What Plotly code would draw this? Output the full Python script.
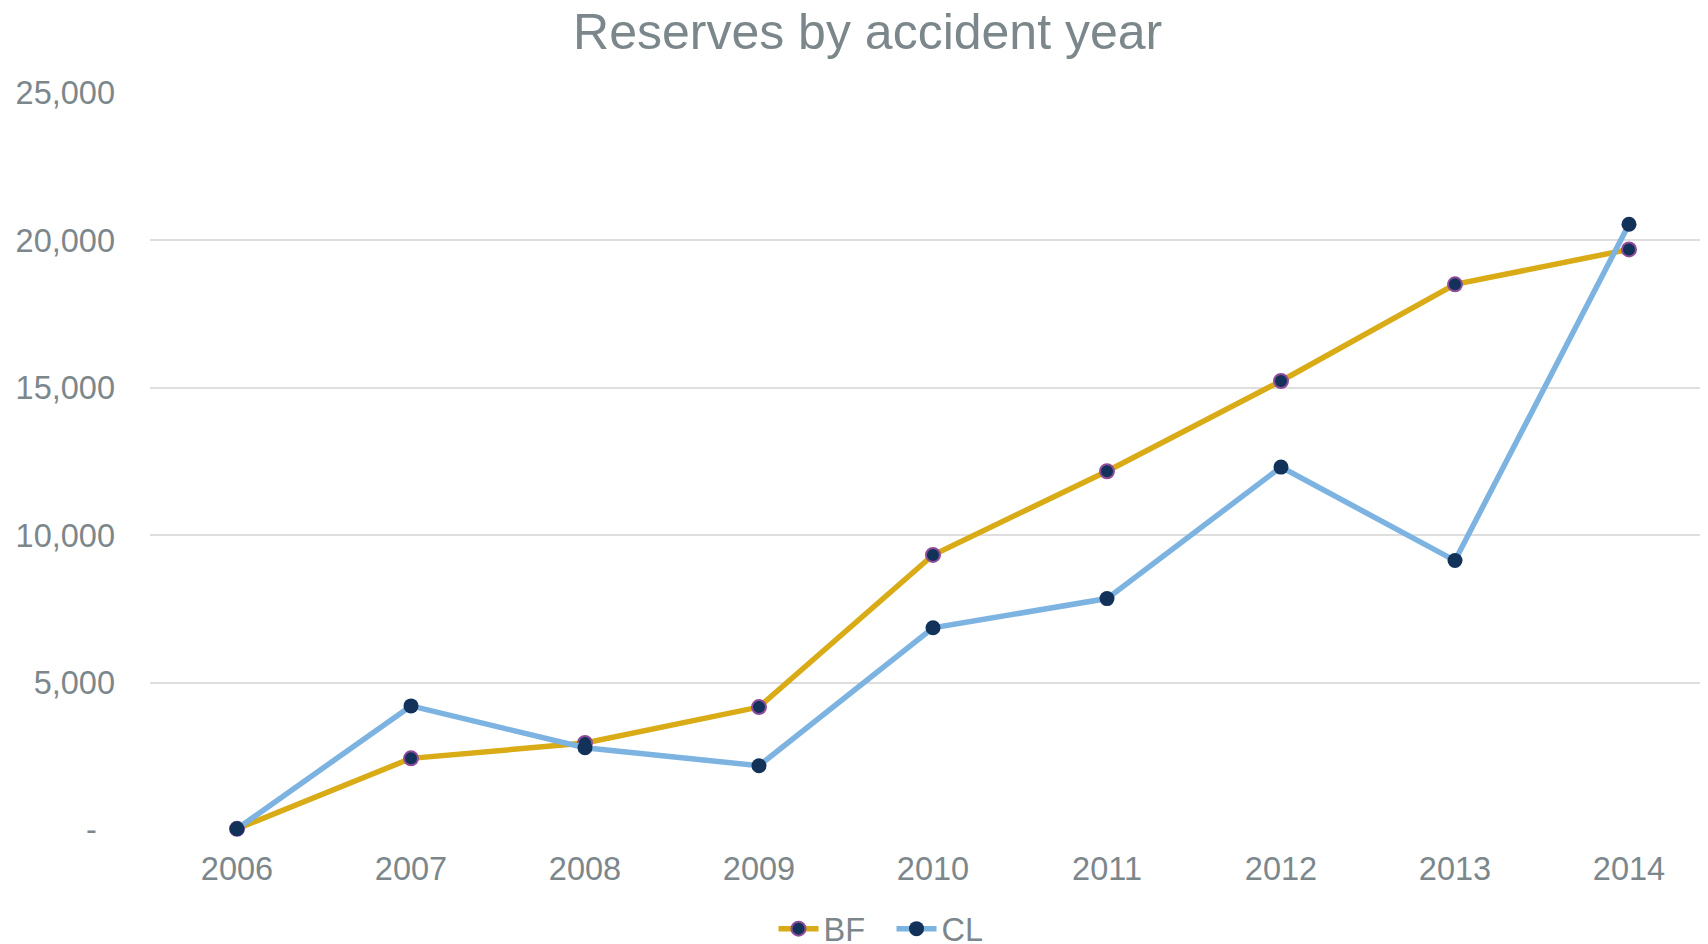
import plotly.graph_objects as go

years = ["2006", "2007", "2008", "2009", "2010", "2011", "2012", "2013", "2014"]
bf = [40, 2430, 2950, 4170, 9330, 12170, 15230, 18510, 19695]
cl = [40, 4210, 2790, 2180, 6860, 7850, 12310, 9140, 20550]
y_ticks = [0, 5000, 10000, 15000, 20000, 25000]
y_tick_labels = ["-\u00a0\u00a0", "5,000", "10,000", "15,000", "20,000", "25,000"]

text_color = "#7c878c"
xi = list(range(len(years)))

fig = go.Figure()
fig.add_trace(go.Scatter(
    x=xi, y=bf, name="BF", mode="lines+markers",
    line=dict(color="#d9ab16", width=5.5),
    marker=dict(size=14, color="#12325a", line=dict(color="#8e4c9a", width=2)),
    cliponaxis=False,
))
fig.add_trace(go.Scatter(
    x=xi, y=cl, name="CL", mode="lines+markers",
    line=dict(color="#7db3e1", width=5.5),
    marker=dict(size=15, color="#12325a", line=dict(color="#12325a", width=0)),
    cliponaxis=False,
))

fig.update_layout(
    width=1708, height=944,
    paper_bgcolor="white", plot_bgcolor="white",
    margin=dict(l=142, r=0, t=85, b=122, autoexpand=False),
    font=dict(family="Liberation Sans, Arial, sans-serif", color=text_color, size=32.5),
    title=dict(text="Reserves by accident year", x=0.5033, xref="container", xanchor="center",
               y=1 - 23 / 944, yref="container", yanchor="middle",
               font=dict(size=50, color=text_color)),
    showlegend=True,
    legend=dict(orientation="h", x=0.4735, xanchor="center", yref="container",
                y=1 - 921 / 944, yanchor="middle", entrywidth=63, entrywidthmode="pixels",
                font=dict(size=32.5, color=text_color), itemwidth=40, tracegroupgap=0,
                bgcolor="rgba(0,0,0,0)"),
    xaxis=dict(
        range=[-0.5, 8.5], tickmode="array", tickvals=xi, ticktext=years,
        showgrid=False, zeroline=False, showline=False, ticks="", automargin=False,
        ticklabelstandoff=16, tickfont=dict(size=32.5, color=text_color),
    ),
    yaxis=dict(
        range=[0, 25000], tickmode="array", tickvals=y_ticks, ticktext=y_tick_labels,
        showgrid=True, gridcolor="#dedede", gridwidth=1.5, zeroline=False, showline=False,
        ticks="", automargin=False, ticklabelstandoff=34, tickfont=dict(size=32.5, color=text_color),
    ),
)

fig.write_html("out.html")
